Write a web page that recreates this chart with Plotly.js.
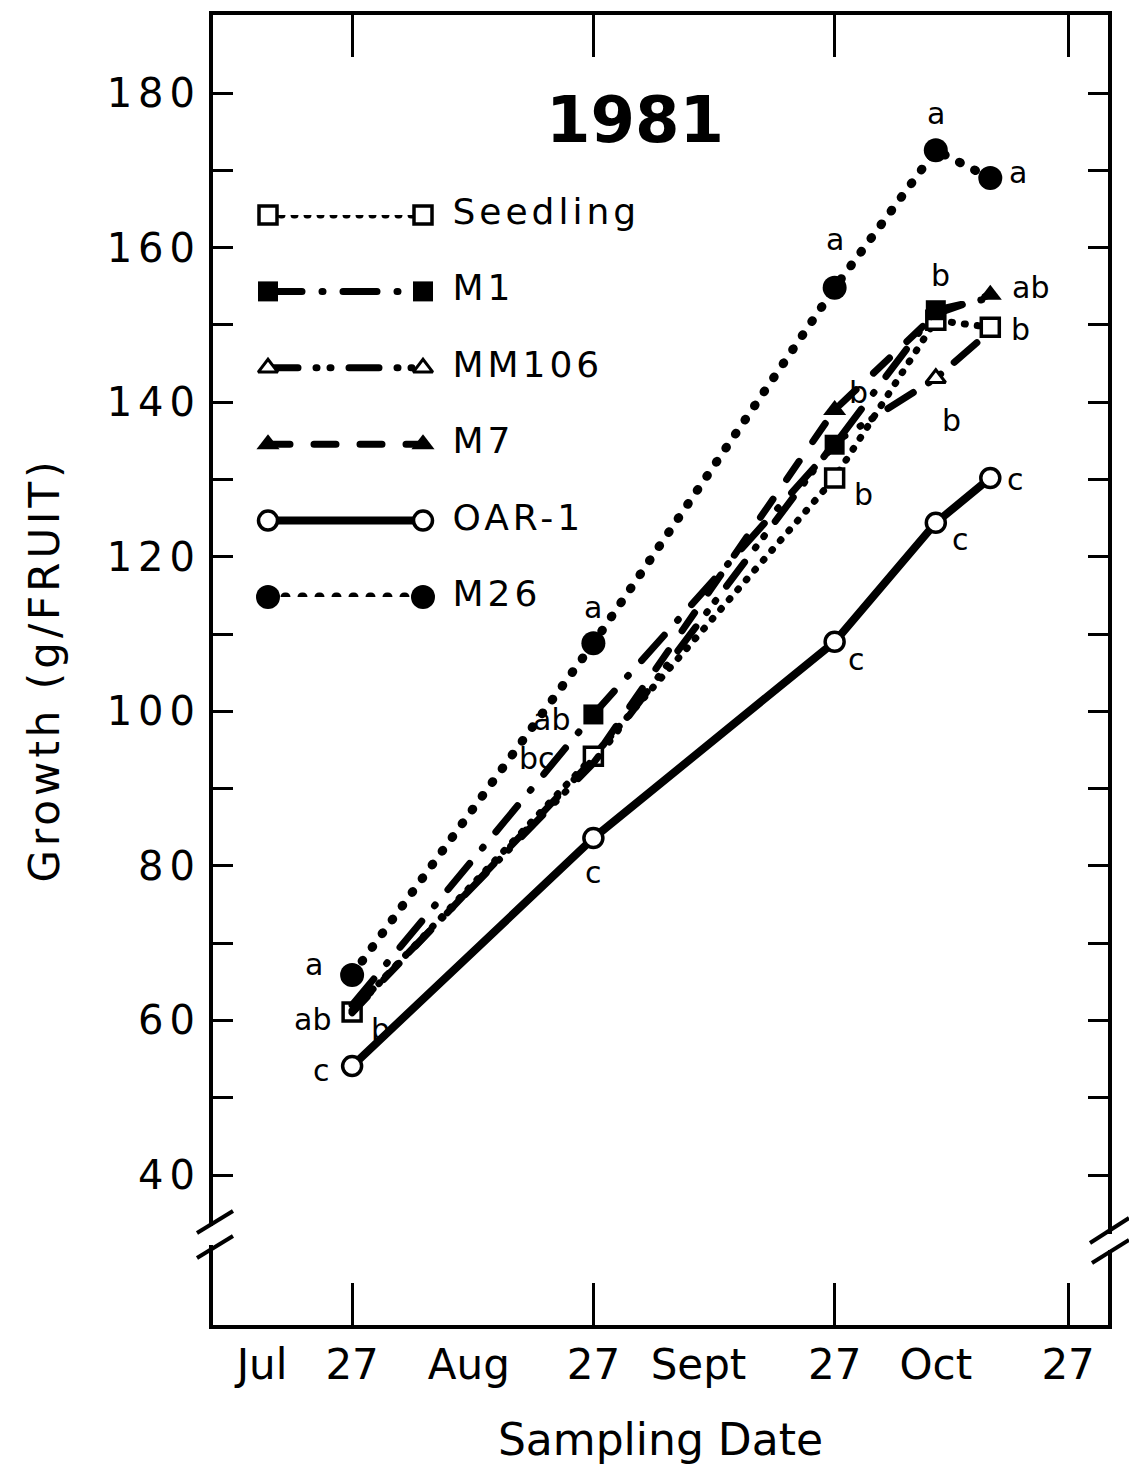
<!DOCTYPE html>
<html><head><meta charset="utf-8">
<script src="https://cdn.plot.ly/plotly-3.0.1.min.js"></script>
<style>
html,body{margin:0;padding:0;background:#fff;}
#chart{width:1129px;height:1465px;}
.scatterlayer path.js-line{stroke-linecap:round !important;}
.ytick text{letter-spacing:6px;}
.g-ytitle text{letter-spacing:4px;}
.textpoint text{letter-spacing:4px;}
</style></head><body><div id="chart"></div>
<script>
// ---------------- data ----------------
const sampleDates = ['1981-07-27','1981-08-27','1981-09-27','1981-10-10','1981-10-17'];
const seriesNames = ['Seedling','M1','MM106','M7','OAR-1','M26'];
const seedling = [61.1, 94.2, 130.2, 150.6, 149.7];
const m1       = [62.0, 99.6, 134.5, 151.9, 153.5];
const mm106    = [61.3, 93.3, 134.8, 143.1, 149.2];
const m7       = [61.0, 93.8, 139.0, 151.4, 153.9];
const oar1     = [54.1, 83.6, 109.0, 124.4, 130.2];
const m26      = [65.9, 108.8, 154.8, 172.6, 169.0];
// significance letters per series and date
const seedlingSig = ['ab','bc','b','','b'];
const m1Sig       = ['','ab','','b',''];
const mm106Sig    = ['','','','b',''];
const m7Sig       = ['b','','b','','ab'];
const oar1Sig     = ['c','c','c','c','c'];
const m26Sig      = ['a','a','a','a','a'];
// axis ticks
const yTickVals = [40,50,60,70,80,90,100,110,120,130,140,150,160,170,180];
const yTickText = ['40','','60','','80','','100','','120','','140','','160','','180'];
const xTickDates = ['1981-07-27','1981-08-27','1981-09-27','1981-10-27'];
const xLabelDates = ['1981-07-15 10:00','1981-07-27','1981-08-11','1981-08-27','1981-09-09 12:00','1981-09-27','1981-10-10','1981-10-27'];
const xLabelText = ['Jul','27','Aug','27','Sept','27','Oct','27'];
const chartTitle = '1981';
const xTitle = 'Sampling Date';
const yTitle = 'Growth (g/FRUIT)';

const seriesValues = [seedling, m1, mm106, m7, oar1, m26];
const seriesSig = [seedlingSig, m1Sig, mm106Sig, m7Sig, oar1Sig, m26Sig];

// ---------------- styles ----------------
const FONT = 'DejaVu Sans';
// open symbols are drawn white-filled with a black outline
const styles = [
  {dash:'1px,12px', width:7, symbol:'square', fill:'#fff', size:18, mlw:3.5},
  {dash:'34px,20px,1px,20px', width:7, symbol:'square', fill:'#000', size:20, mlw:0},
  {dash:'30px,18px,1px,13px,1px,18px', width:7, symbol:'triangle-up', fill:'#fff', size:17, mlw:3},
  {dash:'22px,24px', width:7, symbol:'triangle-up', fill:'#000', size:20, mlw:0},
  {dash:'solid', width:8, symbol:'circle', fill:'#fff', size:19, mlw:3.5},
  {dash:'1px,16px', width:9, symbol:'circle', fill:'#000', size:24, mlw:0}
];
// markers that the original leaves out where points coincide: [series, point]
const hiddenMarkers = [[1,0],[2,0],[3,0],[2,1],[3,1],[2,2],[3,3],[1,4],[2,4]];
// label offsets in px [dx, dy(down)]
const sigOffsets = [
  [[-40,8],[-56,2],[29,17],null,[30,2]],
  [null,[-42,5],null,[5,-35],null],
  [null,null,null,[16,42],null],
  [[28,17],null,[24,-17],null,[40,-7]],
  [[-31,4],[0,34],[22,18],[25,17],[25,2]],
  [[-38,-10],[0,-36],[0,-48],[0,-37],[28,-6]]
];

const L = 213, R = 1108, T = 15, B = 1325;
const px = p => (p - L) / (R - L);
const py = p => (B - p) / (B - T);

const traces = [];
seriesNames.forEach((name, s) => {
  const st = styles[s];
  const sizes = sampleDates.map((d, i) => hiddenMarkers.some(h => h[0] === s && h[1] === i) ? 0 : st.size);
  traces.push({
    type:'scatter', mode:'lines+markers', name: name,
    x: sampleDates, y: seriesValues[s],
    line:{color:'#000', width:st.width, dash:st.dash},
    marker:{symbol:st.symbol, size:sizes, color:st.fill, opacity:1, line:{color:'#000', width:st.mlw}},
    showlegend:false, cliponaxis:false, hoverinfo:'x+y+name'
  });
});
// legend drawn on an auxiliary (hidden) axis pair
seriesNames.forEach((name, s) => {
  const st = styles[s];
  traces.push({
    type:'scatter', mode:'lines+markers', xaxis:'x3', yaxis:'y3',
    x:[0,1], y:[s,s],
    line:{color:'#000', width:st.width, dash:st.dash},
    marker:{symbol:st.symbol, size:st.size, color:st.fill, opacity:1, line:{color:'#000', width:st.mlw}},
    showlegend:false, cliponaxis:false, hoverinfo:'skip'
  });
  traces.push({
    type:'scatter', mode:'text', xaxis:'x3', yaxis:'y3',
    x:[1.19], y:[s], text:[name], textposition:'middle right',
    textfont:{family:FONT, size:36, color:'#000'},
    showlegend:false, cliponaxis:false, hoverinfo:'skip'
  });
});

const annotations = [];
seriesSig.forEach((arr, s) => {
  arr.forEach((txt, i) => {
    if (!txt) return;
    const off = sigOffsets[s][i] || [0,0];
    annotations.push({
      xref:'x', yref:'y', x: sampleDates[i], y: seriesValues[s][i],
      text: txt, showarrow:false, xshift: off[0], yshift: -off[1],
      font:{family:FONT, size:30, color:'#000'}
    });
  });
});

const shapes = [
  {type:'rect', xref:'paper', yref:'paper', x0:px(205), x1:px(221), y0:py(1245), y1:py(1226), fillcolor:'#fff', line:{width:0}, layer:'above'},
  {type:'line', xref:'paper', yref:'paper', x0:px(197), y0:py(1233), x1:px(233), y1:py(1211), line:{color:'#000', width:4}, layer:'above'},
  {type:'line', xref:'paper', yref:'paper', x0:px(197), y0:py(1258), x1:px(233), y1:py(1236), line:{color:'#000', width:4}, layer:'above'},
  {type:'rect', xref:'paper', yref:'paper', x0:px(1100), x1:px(1116), y0:py(1250), y1:py(1234), fillcolor:'#fff', line:{width:0}, layer:'above'},
  {type:'line', xref:'paper', yref:'paper', x0:px(1090), y0:py(1243), x1:px(1129), y1:py(1218), line:{color:'#000', width:4}, layer:'above'},
  {type:'line', xref:'paper', yref:'paper', x0:px(1092), y0:py(1263), x1:px(1129), y1:py(1240), line:{color:'#000', width:4}, layer:'above'}
];

const layout = {
  width:1129, height:1465,
  margin:{l:L, r:1129-R, t:T, b:1465-B},
  paper_bgcolor:'#fff', plot_bgcolor:'#fff',
  showlegend:false,
  font:{family:FONT, color:'#000'},
  title:{text:chartTitle, xref:'paper', yref:'paper', x:px(635), y:py(120), xanchor:'center', yanchor:'middle',
         font:{family:FONT, size:64, weight:'bold', color:'#000'}},
  xaxis:{type:'date', range:['1981-07-09 03:00','1981-11-01 03:00'],
         tickmode:'array', tickvals:xLabelDates, ticktext:xLabelText, ticks:'',
         minor:{tickmode:'array', tickvals:xTickDates, ticks:'inside', ticklen:42, tickwidth:3, tickcolor:'#000', showgrid:false},
         showline:true, linewidth:4, linecolor:'#000', mirror:'ticks', showgrid:false, zeroline:false,
         tickfont:{family:FONT, size:42, color:'#000'},
         title:{text:xTitle, font:{family:FONT, size:44, color:'#000'}, standoff:40}},
  yaxis:{range:[20.6,190.1], tickmode:'array', tickvals:yTickVals, ticktext:yTickText,
         ticks:'inside', ticklen:20, tickwidth:3, tickcolor:'#000',
         showline:true, linewidth:4, linecolor:'#000', mirror:'ticks', showgrid:false, zeroline:false,
         tickfont:{family:FONT, size:40, color:'#000'},
         title:{text:yTitle, font:{family:FONT, size:42, color:'#000'}, standoff:35}},
  xaxis3:{domain:[px(268), px(578)], range:[0,2], visible:false, anchor:'y3', fixedrange:true},
  yaxis3:{domain:[py(597), py(215)], range:[5,0], visible:false, anchor:'x3', fixedrange:true},
  annotations: annotations,
  shapes: shapes
};

Plotly.newPlot('chart', traces, layout, {displayModeBar:false, staticPlot:true}).then(() => {
  document.querySelectorAll('.scatterlayer path.js-line').forEach(p => { p.style.strokeLinecap = 'round'; });
});
</script></body></html>
